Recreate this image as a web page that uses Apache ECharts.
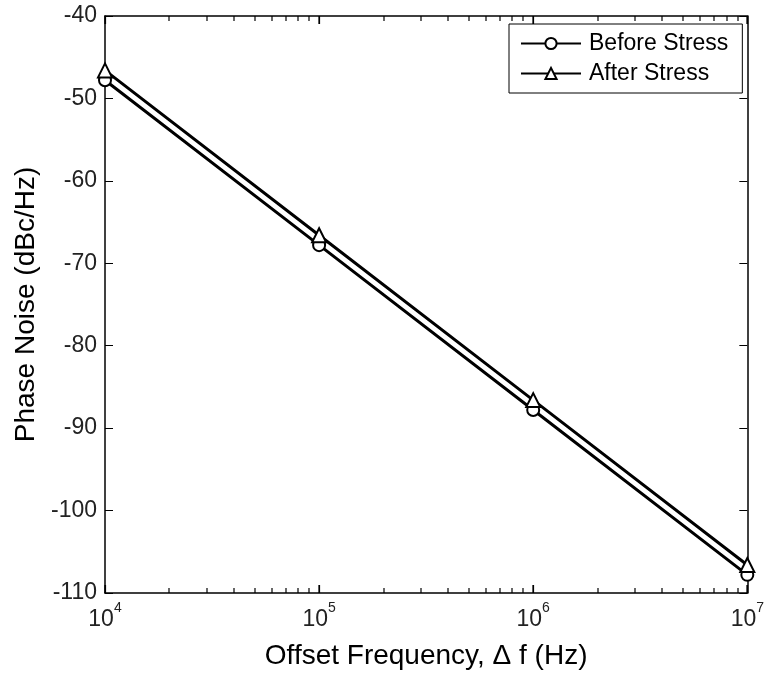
<!DOCTYPE html>
<html>
<head>
<meta charset="utf-8">
<script src="https://cdn.jsdelivr.net/npm/echarts@6/dist/echarts.min.js"></script>
<style>
  html, body { margin: 0; padding: 0; background: #fff; }
  #chart { width: 767px; height: 675px; }
</style>
</head>
<body>
<div id="chart"></div>
<script>
// Offset frequencies (Hz) and measured phase noise (dBc/Hz)
const offsetFreq = [1e4, 1e5, 1e6, 1e7];
const beforeStress = [-47.8, -67.8, -87.8, -107.8];
const afterStress = [-46.6, -66.6, -86.6, -106.6];

// Axis settings
const yTicks = { min: -110, max: -40, step: 10 };
const xDecades = [1e4, 1e5, 1e6, 1e7];
const minorMultipliers = [2, 3, 4, 5, 6, 7, 8, 9];

// Log-axis tick frequencies: decades (long) and 2..9 times each decade (short)
const xTickMarks = [];
for (let d = 0; d < xDecades.length; d++) {
  xTickMarks.push([xDecades[d], yTicks.min, 8]);
  if (d < xDecades.length - 1) {
    for (const m of minorMultipliers) xTickMarks.push([xDecades[d] * m, yTicks.min, 5]);
  }
}

const FONT = '"Liberation Sans", Arial, Helvetica, sans-serif';
const INK = '#000';

const chart = echarts.init(document.getElementById('chart'), null, { renderer: 'canvas' });

const pairs = (ys) => offsetFreq.map((f, i) => [f, ys[i]]);

const majorX = {
  type: 'log',
  logBase: 10,
  min: xDecades[0],
  max: xDecades[xDecades.length - 1],
  splitLine: { show: false },
  axisLabel: { show: false },
  gridIndex: 0
};

// Inward tick marks on the bottom and top frame for each x tick frequency
function renderXTick(params, api) {
  const f = api.value(0);
  const len = api.value(2);
  const bottom = api.coord([f, yTicks.min]);
  const top = api.coord([f, yTicks.max]);
  const x = Math.round(bottom[0]);
  return {
    type: 'group',
    children: [
      { type: 'rect', shape: { x: x - 0.6, y: bottom[1] - len, width: 1.2, height: len }, style: { fill: INK } },
      { type: 'rect', shape: { x: x - 0.6, y: top[1], width: 1.2, height: len }, style: { fill: INK } }
    ]
  };
}

const option = {
  backgroundColor: '#fff',
  animation: false,
  grid: { left: 105, right: 14, top: 16, bottom: 82, containLabel: false },
  legend: {
    left: 509,
    top: 24,
    orient: 'vertical',
    itemWidth: 60,
    itemHeight: 14,
    itemGap: 7,
    padding: [8, 14, 8, 11],
    backgroundColor: '#fff',
    borderColor: INK,
    borderWidth: 1,
    borderRadius: 0,
    textStyle: { fontFamily: FONT, fontSize: 23, color: INK, padding: [0, 0, 0, 3] },
    data: ['Before Stress', 'After Stress']
  },
  xAxis: [
    Object.assign({}, majorX, {
      position: 'bottom',
      axisLine: { show: true, lineStyle: { color: INK, width: 1.5 } },
      axisTick: { show: true, inside: true, length: 8, lineStyle: { color: INK, width: 1.2 } },
      axisLabel: {
        show: true,
        margin: 8,
        formatter: (v) => '{b|10}{s|' + Math.round(Math.log10(v)) + '}',
        rich: {
          b: { fontFamily: FONT, fontSize: 23, color: '#222' },
          s: { fontFamily: FONT, fontSize: 14, color: '#222', padding: [0, 0, 24, 0] }
        }
      },
      name: 'Offset Frequency, \u0394 f (Hz)',
      nameLocation: 'middle',
      nameGap: 49,
      nameTextStyle: { fontFamily: FONT, fontSize: 28, color: INK }
    }),
    Object.assign({}, majorX, {
      position: 'top',
      axisLine: { show: true, lineStyle: { color: INK, width: 1.5 } },
      axisTick: { show: true, inside: true, length: 8, lineStyle: { color: INK, width: 1.2 } }
    })
  ],
  yAxis: [
    {
      type: 'value',
      position: 'left',
      min: yTicks.min,
      max: yTicks.max,
      interval: yTicks.step,
      splitLine: { show: false },
      axisLine: { show: true, lineStyle: { color: INK, width: 1.5 } },
      axisTick: { show: true, inside: true, length: 8, lineStyle: { color: INK, width: 1 } },
      axisLabel: { margin: 8, fontFamily: FONT, fontSize: 23, color: '#222' },
      name: 'Phase Noise (dBc/Hz)',
      nameLocation: 'middle',
      nameGap: 64,
      nameTextStyle: { fontFamily: FONT, fontSize: 28, color: INK }
    },
    {
      type: 'value',
      position: 'right',
      min: yTicks.min,
      max: yTicks.max,
      interval: yTicks.step,
      splitLine: { show: false },
      axisLine: { show: true, lineStyle: { color: INK, width: 1.5 } },
      axisTick: { show: true, inside: true, length: 8, lineStyle: { color: INK, width: 1 } },
      axisLabel: { show: false }
    }
  ],
  series: [
    {
      name: 'x ticks',
      type: 'custom',
      coordinateSystem: 'cartesian2d',
      xAxisIndex: 0,
      yAxisIndex: 0,
      silent: true,
      clip: false,
      renderItem: renderXTick,
      data: xTickMarks,
      encode: { x: 0, y: 1 },
      z: 5
    },
    {
      name: 'Before Stress',
      type: 'line',
      xAxisIndex: 0,
      yAxisIndex: 0,
      data: pairs(beforeStress),
      symbol: 'emptyCircle',
      symbolSize: 12,
      lineStyle: { color: INK, width: 3 },
      itemStyle: { color: INK, borderColor: INK, borderWidth: 2 },
      z: 3
    },
    {
      name: 'After Stress',
      type: 'line',
      xAxisIndex: 0,
      yAxisIndex: 0,
      data: pairs(afterStress),
      symbol: 'emptyTriangle',
      symbolSize: 14,
      lineStyle: { color: INK, width: 3 },
      itemStyle: { color: INK, borderColor: INK, borderWidth: 2 },
      z: 3
    }
  ]
};

chart.setOption(option);
</script>
</body>
</html>
